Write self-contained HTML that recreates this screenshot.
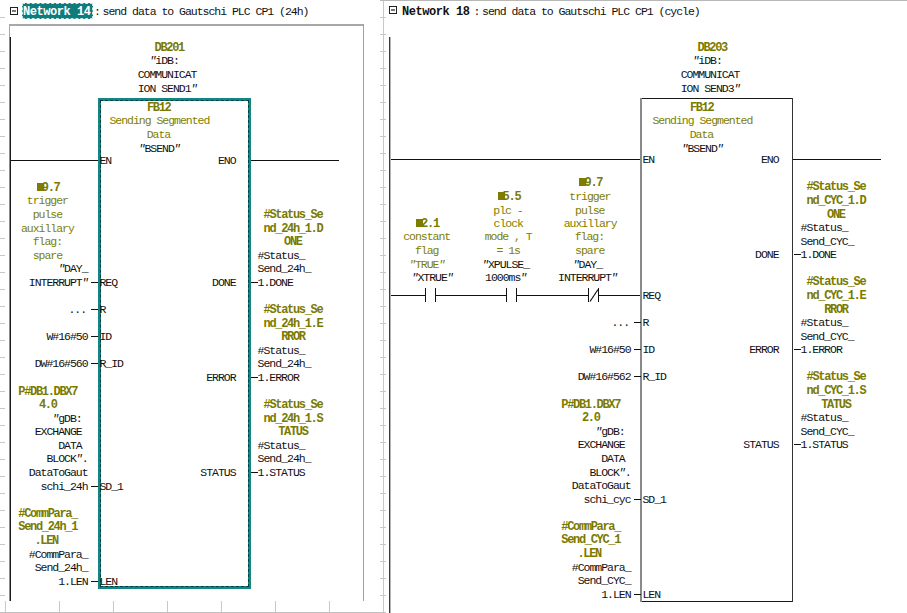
<!DOCTYPE html>
<html><head><meta charset="utf-8"><style>
html,body{margin:0;padding:0;background:#fff}
body{width:907px;height:613px;overflow:hidden;position:relative}
.t{position:absolute;font-family:"Liberation Mono",monospace;font-size:11.5px;letter-spacing:-1.02px;line-height:14px;white-space:pre;color:#111}
.b{font-weight:bold;color:#7a7a00;font-size:12px;letter-spacing:-1.32px}
.o{color:#808000}
.hw{font-weight:bold;color:#fff;font-size:12px;letter-spacing:-0.45px}
.hb{font-weight:bold;color:#111;font-size:12px;letter-spacing:-0.45px}
.r{position:absolute}
.hl{position:absolute;box-sizing:border-box;background:#0e7c7c;border:1px dashed #c8e6e6}
.selbox{position:absolute;box-sizing:border-box;border:3px solid #138585}
.seld{position:absolute;left:-1px;top:-1px;right:-1px;bottom:-1px;border:1px dashed #0b3d3d}
</style></head><body>
<div style="position:absolute;left:10px;top:7px;width:6px;height:6px;border:1px solid #222"></div><div style="position:absolute;left:12px;top:10px;width:4px;height:2px;background:#777"></div>
<div style="position:absolute;left:389px;top:6px;width:6px;height:6px;border:1px solid #222"></div><div style="position:absolute;left:391px;top:9px;width:4px;height:2px;background:#777"></div>
<div class="hl" style="left:22px;top:3px;width:71px;height:16px"></div>
<div class="selbox" style="left:98px;top:98px;width:153px;height:491px"><div class="seld"></div></div>
<svg style="position:absolute;left:0;top:0" width="907" height="613"><line x1="590" y1="301.5" x2="598" y2="289.5" stroke="#111" stroke-width="1.2"/></svg>
<div class="t hw" style="left:23px;top:5px">Network 14</div>
<div class="t k" style="left:94.1px;top:5px">:</div>
<div class="t k" style="left:102.6px;top:5px">send data to Gautschi PLC CP1 (24h)</div>
<div class="t hb" style="left:402px;top:5px">Network 18</div>
<div class="t k" style="left:473.6px;top:5px">:</div>
<div class="t k" style="left:482.1px;top:5px">send data to Gautschi PLC CP1 (cycle)</div>
<div class="t b" style="left:154.5px;top:41px">DB201</div>
<div class="t k" style="left:149.46px;top:54px"><i>"</i>iDB: </div>
<div class="t k" style="left:137.7px;top:68px">COMMUNICAT</div>
<div class="t k" style="left:137.7px;top:82px">ION SEND1<i>"</i></div>
<div class="t b" style="left:146.94px;top:101px">FB12</div>
<div class="t o" style="left:109.42px;top:114px">Sending Segmented</div>
<div class="t o" style="left:146.64px;top:128px">Data</div>
<div class="t k" style="left:138.52px;top:142px"><i>"</i>BSEND<i>"</i></div>
<div class="t k" style="left:99.4px;top:154px">EN</div>
<div class="t k" style="left:217.96px;top:154px">ENO</div>
<div class="t k" style="left:68.46px;top:303px">...</div>
<div class="t k" style="left:99.4px;top:303px">R</div>
<div class="t k" style="left:46.44px;top:330px">W#16#50</div>
<div class="t k" style="left:99.4px;top:330px">ID</div>
<div class="t k" style="left:34.68px;top:357px">DW#16#560</div>
<div class="t k" style="left:99.4px;top:357px">R_ID</div>
<div class="t b" style="left:18.3px;top:385px">P#DB1.DBX7</div>
<div class="t b" style="left:38.88px;top:398px">4.0</div>
<div class="t k" style="left:52.32px;top:412px"><i>"</i>gDB: </div>
<div class="t k" style="left:34.68px;top:425px">EXCHANGE </div>
<div class="t k" style="left:58.2px;top:439px">DATA </div>
<div class="t k" style="left:46.44px;top:452px">BLOCK<i>"</i>.</div>
<div class="t k" style="left:28.8px;top:466px">DataToGaut</div>
<div class="t k" style="left:40.56px;top:480px">schi_24h</div>
<div class="t k" style="left:99.4px;top:480px">SD_1</div>
<div class="t b" style="left:18.3px;top:507px">#CommPara_</div>
<div class="t b" style="left:18.3px;top:520px">Send_24h_1</div>
<div class="t b" style="left:34.44px;top:534px">.LEN</div>
<div class="t k" style="left:28.8px;top:548px">#CommPara_</div>
<div class="t k" style="left:34.68px;top:561px">Send_24h_</div>
<div class="t k" style="left:58.2px;top:575px">1.LEN</div>
<div class="t k" style="left:99.4px;top:575px">LEN</div>
<div class="t b" style="left:263.5px;top:208px">#Status_Se</div>
<div class="t b" style="left:263.5px;top:222px">nd_24h_1.D</div>
<div class="t b" style="left:284.08px;top:235px">ONE</div>
<div class="t k" style="left:257.6px;top:249px">#Status_</div>
<div class="t k" style="left:257.6px;top:262px">Send_24h_</div>
<div class="t k" style="left:257.6px;top:276px">1.DONE</div>
<div class="t k" style="left:212.08px;top:276px">DONE</div>
<div class="t b" style="left:263.5px;top:303px">#Status_Se</div>
<div class="t b" style="left:263.5px;top:317px">nd_24h_1.E</div>
<div class="t b" style="left:281.14px;top:330px">RROR</div>
<div class="t k" style="left:257.6px;top:344px">#Status_</div>
<div class="t k" style="left:257.6px;top:357px">Send_24h_</div>
<div class="t k" style="left:257.6px;top:371px">1.ERROR</div>
<div class="t k" style="left:206.2px;top:371px">ERROR</div>
<div class="t b" style="left:263.5px;top:398px">#Status_Se</div>
<div class="t b" style="left:263.5px;top:412px">nd_24h_1.S</div>
<div class="t b" style="left:278.2px;top:425px">TATUS</div>
<div class="t k" style="left:257.6px;top:439px">#Status_</div>
<div class="t k" style="left:257.6px;top:452px">Send_24h_</div>
<div class="t k" style="left:257.6px;top:466px">1.STATUS</div>
<div class="t k" style="left:200.32px;top:466px">STATUS</div>
<div class="r" style="left:36.74px;top:183px;width:7px;height:8px;background:#7d7d00"></div>
<div class="t b" style="left:35.94px;top:181px"> 9.7</div>
<div class="t o" style="left:26.82px;top:194px">trigger</div>
<div class="t o" style="left:32.7px;top:208px">pulse</div>
<div class="t o" style="left:20.94px;top:222px">auxillary</div>
<div class="t o" style="left:32.7px;top:235px">flag:</div>
<div class="t o" style="left:32.7px;top:249px">spare</div>
<div class="t k" style="left:58.2px;top:262px"><i>"</i>DAY_</div>
<div class="t k" style="left:28.8px;top:276px">INTERRUPT<i>"</i></div>
<div class="t k" style="left:99.4px;top:276px">REQ</div>
<div class="t b" style="left:697.5px;top:41px">DB203</div>
<div class="t k" style="left:692.46px;top:54px"><i>"</i>iDB: </div>
<div class="t k" style="left:680.7px;top:68px">COMMUNICAT</div>
<div class="t k" style="left:680.7px;top:82px">ION SEND3<i>"</i></div>
<div class="t b" style="left:689.94px;top:101px">FB12</div>
<div class="t o" style="left:652.42px;top:114px">Sending Segmented</div>
<div class="t o" style="left:689.64px;top:128px">Data</div>
<div class="t k" style="left:681.52px;top:142px"><i>"</i>BSEND<i>"</i></div>
<div class="t k" style="left:642.4px;top:153px">EN</div>
<div class="t k" style="left:760.96px;top:153px">ENO</div>
<div class="t k" style="left:611.46px;top:316px">...</div>
<div class="t k" style="left:642.4px;top:316px">R</div>
<div class="t k" style="left:589.44px;top:343px">W#16#50</div>
<div class="t k" style="left:642.4px;top:343px">ID</div>
<div class="t k" style="left:577.68px;top:370px">DW#16#562</div>
<div class="t k" style="left:642.4px;top:370px">R_ID</div>
<div class="t b" style="left:561.3px;top:398px">P#DB1.DBX7</div>
<div class="t b" style="left:581.88px;top:411px">2.0</div>
<div class="t k" style="left:595.32px;top:425px"><i>"</i>gDB: </div>
<div class="t k" style="left:577.68px;top:438px">EXCHANGE </div>
<div class="t k" style="left:601.2px;top:452px">DATA </div>
<div class="t k" style="left:589.44px;top:466px">BLOCK<i>"</i>.</div>
<div class="t k" style="left:571.8px;top:479px">DataToGaut</div>
<div class="t k" style="left:583.56px;top:493px">schi_cyc</div>
<div class="t k" style="left:642.4px;top:493px">SD_1</div>
<div class="t b" style="left:561.3px;top:520px">#CommPara_</div>
<div class="t b" style="left:561.3px;top:533px">Send_CYC_1</div>
<div class="t b" style="left:577.44px;top:547px">.LEN</div>
<div class="t k" style="left:571.8px;top:561px">#CommPara_</div>
<div class="t k" style="left:577.68px;top:574px">Send_CYC_</div>
<div class="t k" style="left:601.2px;top:588px">1.LEN</div>
<div class="t k" style="left:642.4px;top:588px">LEN</div>
<div class="t b" style="left:806.5px;top:180px">#Status_Se</div>
<div class="t b" style="left:806.5px;top:194px">nd_CYC_1.D</div>
<div class="t b" style="left:827.08px;top:208px">ONE</div>
<div class="t k" style="left:800.6px;top:221px">#Status_</div>
<div class="t k" style="left:800.6px;top:235px">Send_CYC_</div>
<div class="t k" style="left:800.6px;top:248px">1.DONE</div>
<div class="t k" style="left:755.08px;top:248px">DONE</div>
<div class="t b" style="left:806.5px;top:275px">#Status_Se</div>
<div class="t b" style="left:806.5px;top:289px">nd_CYC_1.E</div>
<div class="t b" style="left:824.14px;top:303px">RROR</div>
<div class="t k" style="left:800.6px;top:316px">#Status_</div>
<div class="t k" style="left:800.6px;top:330px">Send_CYC_</div>
<div class="t k" style="left:800.6px;top:343px">1.ERROR</div>
<div class="t k" style="left:749.2px;top:343px">ERROR</div>
<div class="t b" style="left:806.5px;top:370px">#Status_Se</div>
<div class="t b" style="left:806.5px;top:384px">nd_CYC_1.S</div>
<div class="t b" style="left:821.2px;top:398px">TATUS</div>
<div class="t k" style="left:800.6px;top:411px">#Status_</div>
<div class="t k" style="left:800.6px;top:425px">Send_CYC_</div>
<div class="t k" style="left:800.6px;top:438px">1.STATUS</div>
<div class="t k" style="left:743.32px;top:438px">STATUS</div>
<div class="t k" style="left:642.4px;top:289px">REQ</div>
<div class="r" style="left:416.04px;top:219px;width:7px;height:8px;background:#7d7d00"></div>
<div class="t b" style="left:415.24px;top:217px"> 2.1</div>
<div class="t o" style="left:403.18px;top:230px">constant</div>
<div class="t o" style="left:414.94px;top:244px">flag</div>
<div class="t o" style="left:409.06px;top:258px"><i>"</i>TRUE<i>"</i></div>
<div class="t k" style="left:411.52px;top:271px"><i>"</i>XTRUE<i>"</i></div>
<div class="r" style="left:497.54px;top:192px;width:7px;height:8px;background:#7d7d00"></div>
<div class="t b" style="left:496.74px;top:190px"> 5.5</div>
<div class="t o" style="left:493.26px;top:204px">plc - </div>
<div class="t o" style="left:493.5px;top:217px">clock</div>
<div class="t o" style="left:484.68px;top:230px">mode , T</div>
<div class="t o" style="left:496.44px;top:244px">= 1s</div>
<div class="t k" style="left:482.08px;top:258px"><i>"</i>XPULSE_</div>
<div class="t k" style="left:485.02px;top:271px">1000ms<i>"</i></div>
<div class="r" style="left:579.44px;top:178px;width:7px;height:8px;background:#7d7d00"></div>
<div class="t b" style="left:578.64px;top:176px"> 9.7</div>
<div class="t o" style="left:569.32px;top:190px">trigger</div>
<div class="t o" style="left:575.0px;top:204px">pulse</div>
<div class="t o" style="left:563.64px;top:217px">auxillary</div>
<div class="t o" style="left:574.7px;top:230px">flag:</div>
<div class="t o" style="left:575.0px;top:244px">spare</div>
<div class="t k" style="left:572.7px;top:258px"><i>"</i>DAY_</div>
<div class="t k" style="left:558.0px;top:271px">INTERRUPT<i>"</i></div>
<div class="r" style="left:0px;top:17px;width:5px;height:1px;background:#c8c8c8"></div>
<div class="r" style="left:380px;top:17px;width:6px;height:1px;background:#c8c8c8"></div>
<div class="r" style="left:0px;top:34px;width:5px;height:1px;background:#c8c8c8"></div>
<div class="r" style="left:380px;top:34px;width:6px;height:1px;background:#c8c8c8"></div>
<div class="r" style="left:0px;top:51px;width:5px;height:1px;background:#c8c8c8"></div>
<div class="r" style="left:380px;top:51px;width:6px;height:1px;background:#c8c8c8"></div>
<div class="r" style="left:0px;top:68px;width:5px;height:1px;background:#c8c8c8"></div>
<div class="r" style="left:380px;top:68px;width:6px;height:1px;background:#c8c8c8"></div>
<div class="r" style="left:0px;top:85px;width:5px;height:1px;background:#c8c8c8"></div>
<div class="r" style="left:380px;top:85px;width:6px;height:1px;background:#c8c8c8"></div>
<div class="r" style="left:0px;top:102px;width:5px;height:1px;background:#c8c8c8"></div>
<div class="r" style="left:380px;top:102px;width:6px;height:1px;background:#c8c8c8"></div>
<div class="r" style="left:0px;top:119px;width:5px;height:1px;background:#c8c8c8"></div>
<div class="r" style="left:380px;top:119px;width:6px;height:1px;background:#c8c8c8"></div>
<div class="r" style="left:0px;top:136px;width:5px;height:1px;background:#c8c8c8"></div>
<div class="r" style="left:380px;top:136px;width:6px;height:1px;background:#c8c8c8"></div>
<div class="r" style="left:0px;top:153px;width:5px;height:1px;background:#c8c8c8"></div>
<div class="r" style="left:380px;top:153px;width:6px;height:1px;background:#c8c8c8"></div>
<div class="r" style="left:0px;top:170px;width:5px;height:1px;background:#c8c8c8"></div>
<div class="r" style="left:380px;top:170px;width:6px;height:1px;background:#c8c8c8"></div>
<div class="r" style="left:0px;top:187px;width:5px;height:1px;background:#c8c8c8"></div>
<div class="r" style="left:380px;top:187px;width:6px;height:1px;background:#c8c8c8"></div>
<div class="r" style="left:0px;top:204px;width:5px;height:1px;background:#c8c8c8"></div>
<div class="r" style="left:380px;top:204px;width:6px;height:1px;background:#c8c8c8"></div>
<div class="r" style="left:0px;top:221px;width:5px;height:1px;background:#c8c8c8"></div>
<div class="r" style="left:380px;top:221px;width:6px;height:1px;background:#c8c8c8"></div>
<div class="r" style="left:0px;top:238px;width:5px;height:1px;background:#c8c8c8"></div>
<div class="r" style="left:380px;top:238px;width:6px;height:1px;background:#c8c8c8"></div>
<div class="r" style="left:0px;top:255px;width:5px;height:1px;background:#c8c8c8"></div>
<div class="r" style="left:380px;top:255px;width:6px;height:1px;background:#c8c8c8"></div>
<div class="r" style="left:0px;top:272px;width:5px;height:1px;background:#c8c8c8"></div>
<div class="r" style="left:380px;top:272px;width:6px;height:1px;background:#c8c8c8"></div>
<div class="r" style="left:0px;top:289px;width:5px;height:1px;background:#c8c8c8"></div>
<div class="r" style="left:380px;top:289px;width:6px;height:1px;background:#c8c8c8"></div>
<div class="r" style="left:0px;top:306px;width:5px;height:1px;background:#c8c8c8"></div>
<div class="r" style="left:380px;top:306px;width:6px;height:1px;background:#c8c8c8"></div>
<div class="r" style="left:0px;top:323px;width:5px;height:1px;background:#c8c8c8"></div>
<div class="r" style="left:380px;top:323px;width:6px;height:1px;background:#c8c8c8"></div>
<div class="r" style="left:0px;top:340px;width:5px;height:1px;background:#c8c8c8"></div>
<div class="r" style="left:380px;top:340px;width:6px;height:1px;background:#c8c8c8"></div>
<div class="r" style="left:0px;top:357px;width:5px;height:1px;background:#c8c8c8"></div>
<div class="r" style="left:380px;top:357px;width:6px;height:1px;background:#c8c8c8"></div>
<div class="r" style="left:0px;top:374px;width:5px;height:1px;background:#c8c8c8"></div>
<div class="r" style="left:380px;top:374px;width:6px;height:1px;background:#c8c8c8"></div>
<div class="r" style="left:0px;top:391px;width:5px;height:1px;background:#c8c8c8"></div>
<div class="r" style="left:380px;top:391px;width:6px;height:1px;background:#c8c8c8"></div>
<div class="r" style="left:0px;top:408px;width:5px;height:1px;background:#c8c8c8"></div>
<div class="r" style="left:380px;top:408px;width:6px;height:1px;background:#c8c8c8"></div>
<div class="r" style="left:0px;top:425px;width:5px;height:1px;background:#c8c8c8"></div>
<div class="r" style="left:380px;top:425px;width:6px;height:1px;background:#c8c8c8"></div>
<div class="r" style="left:0px;top:442px;width:5px;height:1px;background:#c8c8c8"></div>
<div class="r" style="left:380px;top:442px;width:6px;height:1px;background:#c8c8c8"></div>
<div class="r" style="left:0px;top:459px;width:5px;height:1px;background:#c8c8c8"></div>
<div class="r" style="left:380px;top:459px;width:6px;height:1px;background:#c8c8c8"></div>
<div class="r" style="left:0px;top:476px;width:5px;height:1px;background:#c8c8c8"></div>
<div class="r" style="left:380px;top:476px;width:6px;height:1px;background:#c8c8c8"></div>
<div class="r" style="left:0px;top:493px;width:5px;height:1px;background:#c8c8c8"></div>
<div class="r" style="left:380px;top:493px;width:6px;height:1px;background:#c8c8c8"></div>
<div class="r" style="left:0px;top:510px;width:5px;height:1px;background:#c8c8c8"></div>
<div class="r" style="left:380px;top:510px;width:6px;height:1px;background:#c8c8c8"></div>
<div class="r" style="left:0px;top:527px;width:5px;height:1px;background:#c8c8c8"></div>
<div class="r" style="left:380px;top:527px;width:6px;height:1px;background:#c8c8c8"></div>
<div class="r" style="left:0px;top:544px;width:5px;height:1px;background:#c8c8c8"></div>
<div class="r" style="left:380px;top:544px;width:6px;height:1px;background:#c8c8c8"></div>
<div class="r" style="left:0px;top:561px;width:5px;height:1px;background:#c8c8c8"></div>
<div class="r" style="left:380px;top:561px;width:6px;height:1px;background:#c8c8c8"></div>
<div class="r" style="left:0px;top:578px;width:5px;height:1px;background:#c8c8c8"></div>
<div class="r" style="left:380px;top:578px;width:6px;height:1px;background:#c8c8c8"></div>
<div class="r" style="left:0px;top:595px;width:5px;height:1px;background:#c8c8c8"></div>
<div class="r" style="left:380px;top:595px;width:6px;height:1px;background:#c8c8c8"></div>
<div class="r" style="left:0px;top:612px;width:5px;height:1px;background:#c8c8c8"></div>
<div class="r" style="left:380px;top:612px;width:6px;height:1px;background:#c8c8c8"></div>
<div class="r" style="left:383px;top:0px;width:1px;height:613px;background:#c8c8c8"></div>
<div class="r" style="left:380px;top:0px;width:527px;height:1px;background:#b8b8b8"></div>
<div class="r" style="left:0px;top:612px;width:386px;height:1px;background:#c0c0c0"></div>
<div class="r" style="left:5px;top:601px;width:1px;height:11px;background:#c8c8c8"></div>
<div class="r" style="left:59px;top:601px;width:1px;height:11px;background:#c8c8c8"></div>
<div class="r" style="left:113px;top:601px;width:1px;height:11px;background:#c8c8c8"></div>
<div class="r" style="left:167px;top:601px;width:1px;height:11px;background:#c8c8c8"></div>
<div class="r" style="left:221px;top:601px;width:1px;height:11px;background:#c8c8c8"></div>
<div class="r" style="left:275px;top:601px;width:1px;height:11px;background:#c8c8c8"></div>
<div class="r" style="left:329px;top:601px;width:1px;height:11px;background:#c8c8c8"></div>
<div class="r" style="left:9px;top:24px;width:355px;height:2px;background:#a8a8a8"></div>
<div class="r" style="left:9px;top:24px;width:1px;height:14px;background:#a8a8a8"></div>
<div class="r" style="left:363px;top:24px;width:1px;height:577px;background:#a0a0a0"></div>
<div class="r" style="left:9px;top:37px;width:1px;height:564px;background:#8a8a8a"></div>
<div class="r" style="left:10px;top:37px;width:1px;height:564px;background:#1a1a1a"></div>
<div class="r" style="left:389px;top:37px;width:1px;height:576px;background:#3a3a3a"></div>
<div class="r" style="left:390px;top:37px;width:1px;height:576px;background:#b4b4b4"></div>
<div class="r" style="left:91px;top:309px;width:7px;height:1px;background:#111"></div>
<div class="r" style="left:91px;top:336px;width:7px;height:1px;background:#111"></div>
<div class="r" style="left:91px;top:363px;width:7px;height:1px;background:#111"></div>
<div class="r" style="left:91px;top:486px;width:7px;height:1px;background:#111"></div>
<div class="r" style="left:91px;top:581px;width:7px;height:1px;background:#111"></div>
<div class="r" style="left:251px;top:282px;width:7px;height:1px;background:#111"></div>
<div class="r" style="left:251px;top:377px;width:7px;height:1px;background:#111"></div>
<div class="r" style="left:251px;top:472px;width:7px;height:1px;background:#111"></div>
<div class="r" style="left:91px;top:282px;width:7px;height:1px;background:#111"></div>
<div class="r" style="left:11px;top:160px;width:87px;height:1px;background:#111"></div>
<div class="r" style="left:251px;top:160px;width:88px;height:1px;background:#111"></div>
<div class="r" style="left:640px;top:98px;width:153px;height:1px;background:#1a1a1a"></div>
<div class="r" style="left:640px;top:601px;width:153px;height:1px;background:#1a1a1a"></div>
<div class="r" style="left:640px;top:98px;width:2px;height:504px;background:#8a8a8a"></div>
<div class="r" style="left:792px;top:98px;width:1px;height:504px;background:#333"></div>
<div class="r" style="left:634px;top:322px;width:7px;height:1px;background:#111"></div>
<div class="r" style="left:634px;top:349px;width:7px;height:1px;background:#111"></div>
<div class="r" style="left:634px;top:376px;width:7px;height:1px;background:#111"></div>
<div class="r" style="left:634px;top:499px;width:7px;height:1px;background:#111"></div>
<div class="r" style="left:634px;top:594px;width:7px;height:1px;background:#111"></div>
<div class="r" style="left:794px;top:254px;width:7px;height:1px;background:#111"></div>
<div class="r" style="left:794px;top:349px;width:7px;height:1px;background:#111"></div>
<div class="r" style="left:794px;top:444px;width:7px;height:1px;background:#111"></div>
<div class="r" style="left:391px;top:159px;width:249px;height:1px;background:#111"></div>
<div class="r" style="left:793px;top:159px;width:88px;height:1px;background:#111"></div>
<div class="r" style="left:391px;top:295px;width:34px;height:1px;background:#111"></div>
<div class="r" style="left:436px;top:295px;width:70px;height:1px;background:#111"></div>
<div class="r" style="left:517px;top:295px;width:71px;height:1px;background:#111"></div>
<div class="r" style="left:599px;top:295px;width:41px;height:1px;background:#111"></div>
<div class="r" style="left:425px;top:288px;width:1px;height:14px;background:#111"></div>
<div class="r" style="left:435px;top:288px;width:1px;height:14px;background:#111"></div>
<div class="r" style="left:506px;top:288px;width:1px;height:14px;background:#111"></div>
<div class="r" style="left:516px;top:288px;width:1px;height:14px;background:#111"></div>
<div class="r" style="left:588px;top:288px;width:1px;height:14px;background:#111"></div>
<div class="r" style="left:598px;top:288px;width:1px;height:14px;background:#111"></div>
</body></html>
